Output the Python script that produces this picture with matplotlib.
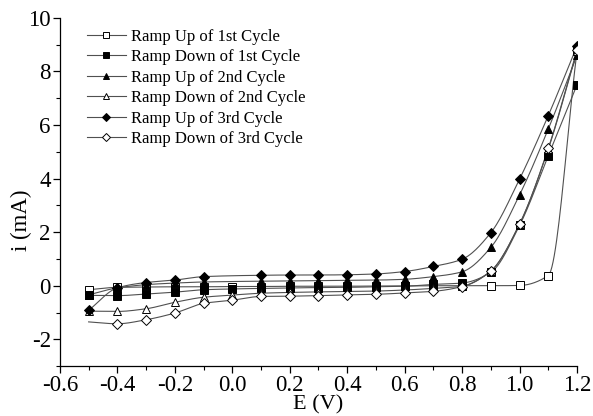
import numpy as np
import matplotlib
matplotlib.use("Agg")
import matplotlib.pyplot as plt
from matplotlib.ticker import MultipleLocator, FormatStrFormatter

plt.rcParams['font.family'] = ['Liberation Serif', 'DejaVu Serif']

# ---- data ----
x_all = [-0.5, -0.4, -0.3, -0.2, -0.1, 0.0, 0.1, 0.2, 0.3, 0.4, 0.5, 0.6, 0.7, 0.8, 0.9, 1.0, 1.1, 1.2]
x_skip0 = [-0.5, -0.4, -0.3, -0.2, -0.1, 0.1, 0.2, 0.3, 0.4, 0.5, 0.6, 0.7, 0.8, 0.9, 1.0, 1.1, 1.2]

ru1 = [-0.15, -0.06, -0.05, -0.04, -0.04, -0.03, -0.03, -0.02, -0.02, -0.02, -0.01, -0.01, 0.0, 0.0, 0.0, 0.01, 0.38, 8.75]
rd1 = [-0.36, -0.37, -0.31, -0.24, -0.15, -0.12, -0.10, -0.08, -0.07, -0.06, -0.04, -0.02, 0.05, 0.10, 0.50, 2.25, 4.85, 7.50]
ru2 = [-0.34, -0.08, 0.04, 0.10, 0.14, 0.17, 0.18, 0.19, 0.20, 0.21, 0.24, 0.34, 0.52, 1.43, 3.39, 5.85, 8.60]
rd2 = [-0.95, -0.96, -0.86, -0.62, -0.43, -0.35, -0.28, -0.25, -0.23, -0.22, -0.20, -0.16, -0.10, -0.02, 0.55, 2.30, 5.10, 8.75]
ru3 = [-0.92, -0.08, 0.12, 0.21, 0.34, 0.39, 0.40, 0.40, 0.41, 0.44, 0.53, 0.72, 0.99, 1.98, 3.98, 6.35, 8.95]
rd3 = [-1.35, -1.42, -1.27, -1.02, -0.66, -0.54, -0.40, -0.39, -0.37, -0.34, -0.32, -0.27, -0.21, -0.03, 0.55, 2.30, 5.13, 8.80]

labels = ["Ramp Up of 1st Cycle", "Ramp Down of 1st Cycle", "Ramp Up of 2nd Cycle",
          "Ramp Down of 2nd Cycle", "Ramp Up of 3rd Cycle", "Ramp Down of 3rd Cycle"]


def pchip(x, y, n=25):
    x = np.asarray(x, float); y = np.asarray(y, float)
    h = np.diff(x); d = np.diff(y) / h
    m = np.zeros_like(y)
    m[0] = d[0]; m[-1] = d[-1]
    for k in range(1, len(x) - 1):
        if d[k - 1] * d[k] <= 0:
            m[k] = 0.0
        else:
            w1 = 2 * h[k] + h[k - 1]; w2 = h[k] + 2 * h[k - 1]
            m[k] = (w1 + w2) / (w1 / d[k - 1] + w2 / d[k])
    xs, ys = [], []
    for k in range(len(x) - 1):
        t = np.linspace(0, 1, n, endpoint=(k == len(x) - 2))
        h00 = 2 * t**3 - 3 * t**2 + 1
        h10 = t**3 - 2 * t**2 + t
        h01 = -2 * t**3 + 3 * t**2
        h11 = t**3 - t**2
        xs.append(x[k] + t * h[k])
        ys.append(h00 * y[k] + h10 * h[k] * m[k] + h01 * y[k + 1] + h11 * h[k] * m[k + 1])
    return np.concatenate(xs), np.concatenate(ys)


fig = plt.figure(figsize=(5.93, 4.16), dpi=100)
ax = fig.add_axes([0.101, 0.120, 0.872, 0.837])

series = [
    (x_all, ru1, 's', 'white', None),
    (x_all, rd1, 's', 'black', None),
    (x_skip0, ru2, '^', 'black', None),
    (x_all, rd2, '^', 'white', None),
    (x_skip0, ru3, 'D', 'black', None),
    (x_all, rd3, 'D', 'white', list(range(1, len(x_all)))),
]
lc = '#505050'
handles = []
for (xx, yy, mk, fc, me), lab in zip(series, labels):
    sx, sy = pchip(xx, yy)
    ax.plot(sx, sy, color=lc, lw=0.8, zorder=2)
    ms = 5.2 if mk != 'D' else 4.8
    xm = np.asarray(xx); ym = np.asarray(yy)
    if me is not None:
        xm = xm[me]; ym = ym[me]
    ax.plot(xm, ym, linestyle='none', marker=mk, markersize=ms,
            markerfacecolor=fc, markeredgecolor='black', markeredgewidth=0.7, zorder=3)
    h, = ax.plot([], [], color=lc, lw=0.8, marker=mk, markersize=ms - 0.5,
                 markerfacecolor=fc, markeredgecolor='black', markeredgewidth=0.7)
    handles.append(h)

ax.set_xlim(-0.6, 1.2)
ax.set_ylim(-3, 10)
ax.xaxis.set_major_locator(MultipleLocator(0.2))
ax.xaxis.set_minor_locator(MultipleLocator(0.1))
ax.yaxis.set_major_locator(MultipleLocator(2))
ax.yaxis.set_minor_locator(MultipleLocator(1))
ax.xaxis.set_major_formatter(FormatStrFormatter('%.1f'))
ax.yaxis.set_major_formatter(FormatStrFormatter('%d'))
for s in ['top', 'right']:
    ax.spines[s].set_visible(False)
for s in ['left', 'bottom']:
    ax.spines[s].set_linewidth(0.9)
ax.tick_params(which='major', direction='out', length=5, width=0.9, labelsize=16.5, pad=1.5)
ax.tick_params(which='minor', direction='out', length=3, width=0.8)
ax.set_xlabel('E (V)', fontsize=16)
ax.set_ylabel('i (mA)', fontsize=16.5)
ax.xaxis.set_label_coords(0.5, -0.112)
ax.xaxis.label.set_va('center')
ax.yaxis.set_label_coords(-0.0735, 0.42)
ax.yaxis.label.set_va('center')

leg = ax.legend(handles, labels, loc='upper left', bbox_to_anchor=(0.04, 0.988),
                frameon=False, fontsize=12, handlelength=2.3, handletextpad=0.3,
                labelspacing=0.27, borderaxespad=0)

fig.savefig('out.png', dpi=100)
